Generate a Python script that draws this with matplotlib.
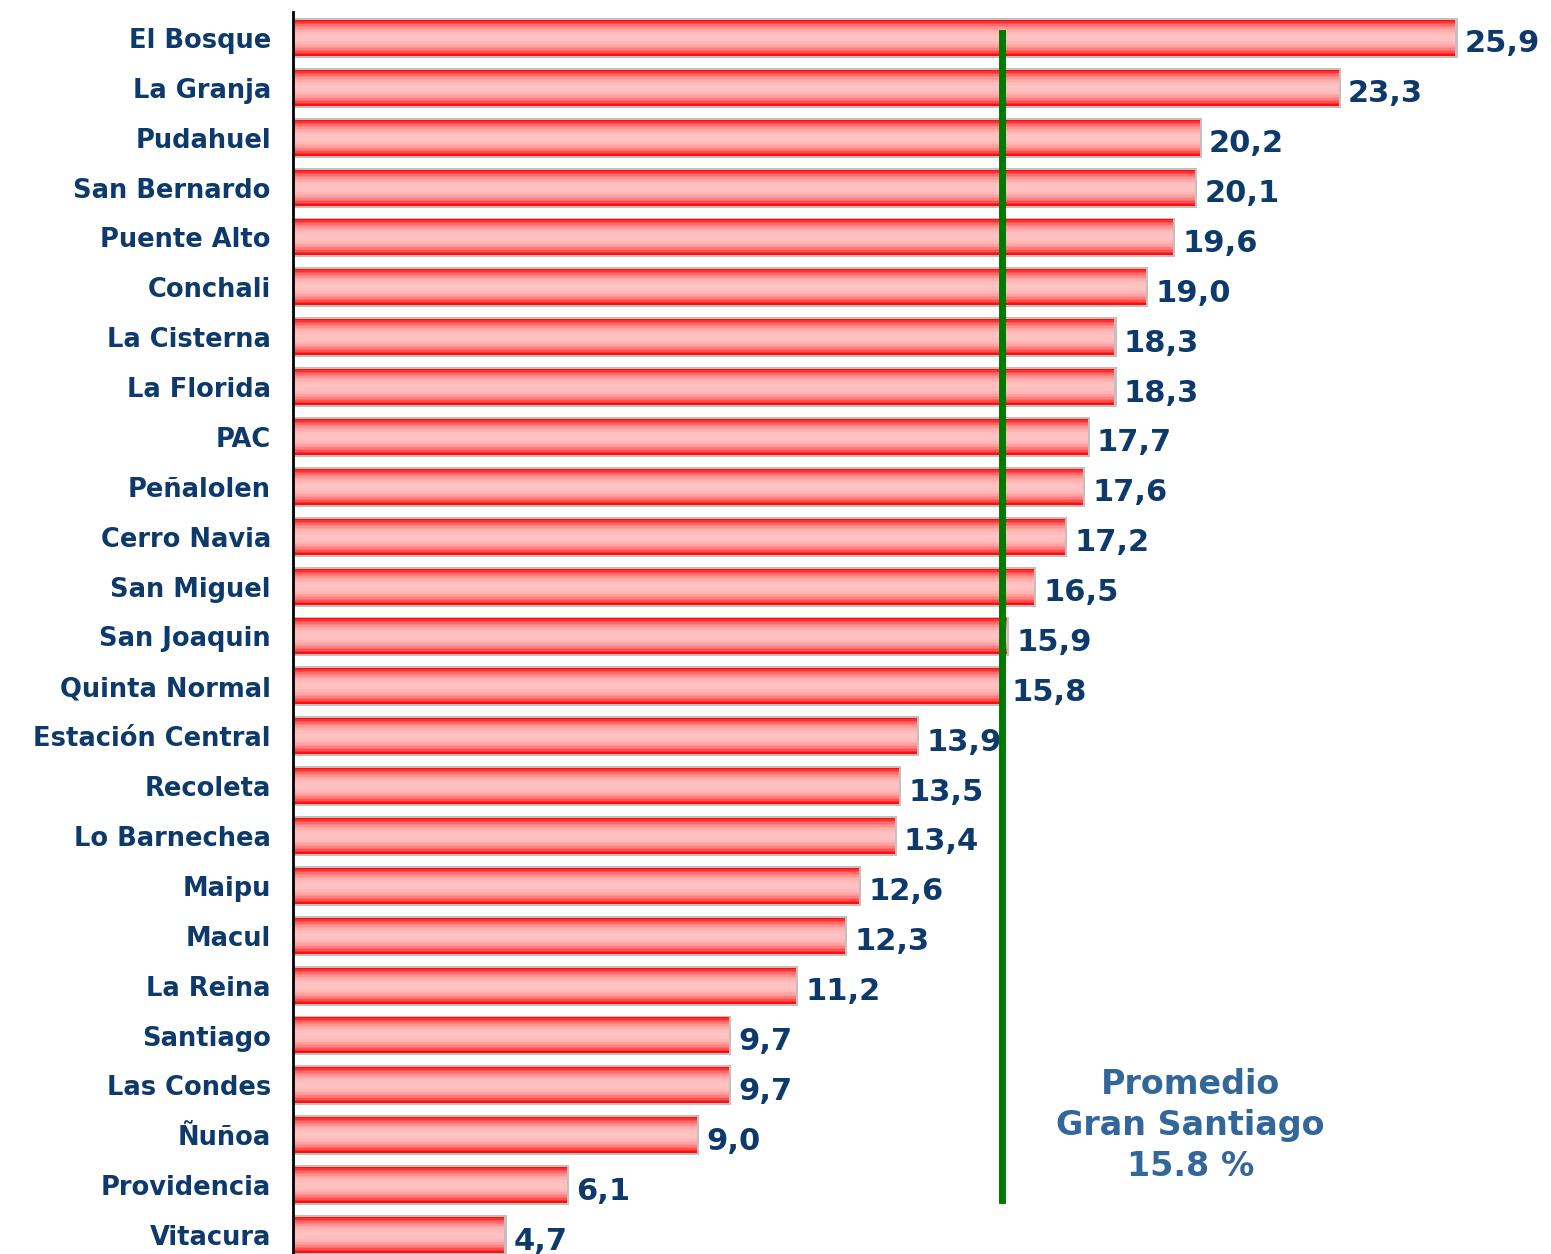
import numpy as np
import matplotlib.pyplot as plt
from matplotlib.patches import Rectangle

comunas = ['El Bosque', 'La Granja', 'Pudahuel', 'San Bernardo', 'Puente Alto',
           'Conchali', 'La Cisterna', 'La Florida', 'PAC', 'Peñalolen',
           'Cerro Navia', 'San Miguel', 'San Joaquin', 'Quinta Normal',
           'Estación Central', 'Recoleta', 'Lo Barnechea', 'Maipu', 'Macul',
           'La Reina', 'Santiago', 'Las Condes', 'Ñuñoa', 'Providencia', 'Vitacura']
valores = [25.9, 23.3, 20.2, 20.1, 19.6, 19.0, 18.3, 18.3, 17.7, 17.6,
           17.2, 16.5, 15.9, 15.8, 13.9, 13.5, 13.4, 12.6, 12.3, 11.2,
           9.7, 9.7, 9.0, 6.1, 4.7]
promedio = 15.8

navy = '#0d3a6b'
W, H = 1551, 1254
fig = plt.figure(figsize=(W / 100, H / 100), dpi=100)
ax = fig.add_axes([293 / W, 0, 1 - 293 / W, 1 - 12 / H])

# vertical gradient: red edges, pink middle, banded
t = np.linspace(-1, 1, 24)
w = np.abs(t) ** 2.4
edge = np.array([1.0, 0.05, 0.05])
mid = np.array([1.0, 0.76, 0.76])
grad = (mid[None, :] * (1 - w[:, None]) + edge[None, :] * w[:, None])[:, None, :]

bh = 0.72
for i, (name, v) in enumerate(zip(comunas, valores)):
    ax.add_patch(Rectangle((0, i - bh / 2 - 0.04), v + 0.06, bh + 0.08,
                           facecolor='#c0c0c0', edgecolor='none', zorder=1))
    ax.imshow(grad, extent=(0, v, i + bh / 2, i - bh / 2), aspect='auto',
              interpolation='nearest', zorder=2)
    ax.text(v + 0.22, i + 0.12, f'{v:.1f}'.replace('.', ','),
            ha='left', va='center', fontsize=22, fontweight='bold', color=navy, zorder=3)

ax.plot([promedio, promedio], [-0.1, 23.29], color='#007a00', lw=5, zorder=4)
ax.text(20.0, 21.8, 'Promedio\nGran Santiago\n15.8 %', ha='center', va='center',
        fontsize=24, fontweight='bold', color='#336699', linespacing=1.3)

ax.set_xlim(0, (W - 293) / 44.86)
ax.set_ylim(24.38, -0.52)
ax.set_yticks(range(len(comunas)))
ax.set_yticklabels(comunas, fontsize=18.5, fontweight='bold', color=navy)
ax.tick_params(axis='y', length=0, pad=16)
ax.set_xticks([])
for s in ['top', 'right', 'bottom']:
    ax.spines[s].set_visible(False)
ax.spines['left'].set_linewidth(2)

fig.savefig('out.png', dpi=100)
